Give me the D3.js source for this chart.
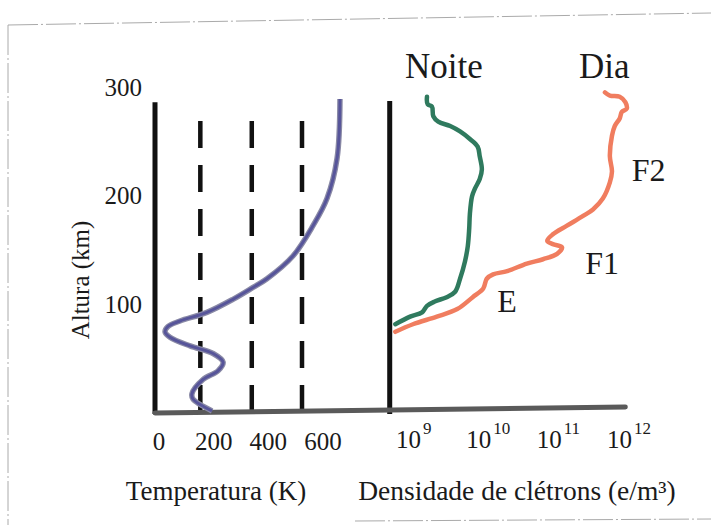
<!DOCTYPE html>
<html>
<head>
<meta charset="utf-8">
<script src="https://cdn.jsdelivr.net/npm/d3@7"></script>
<style>
  body { margin: 0; background: #fff; }
</style>
</head>
<body>
<div id="chart"></div>
<script>
// altura (km) ticks
var heightTicks = [100, 200, 300];
var tempTicks = [0, 200, 400, 600];
var densityExp = [9, 10, 11, 12];

// dashed reference lines (K)
var dashedTemps = [185, 395, 600];

// temperature profile: altura (km) / temperatura (K)
var tempH = [1, 12, 17, 30, 38, 46, 54, 61, 69, 74, 79, 84, 92, 104, 115, 123, 144, 172, 197, 234, 289];
var tempK = [233, 155, 151, 196, 257, 278, 237, 143, 61, 41, 53, 102, 212, 318, 400, 457, 563, 645, 702, 743, 755];

// electron density, log10(e/m3)
var noiteH = [81, 88, 92, 98, 102, 106, 111, 123, 139, 153, 169, 183, 199, 206, 215, 224, 236, 245, 252, 259, 264, 268, 273, 282, 284, 291];
var noiteLogN = [8.82, 9.03, 9.2, 9.27, 9.38, 9.55, 9.67, 9.74, 9.81, 9.85, 9.87, 9.88, 9.91, 9.95, 10.02, 10.05, 10.02, 9.99, 9.88, 9.74, 9.6, 9.43, 9.36, 9.34, 9.28, 9.27];

var diaH = [74, 81, 88, 95, 106, 114, 123, 127, 130, 137, 141, 146, 152, 155, 158, 164, 172, 181, 187, 197, 212, 222, 236, 255, 264, 271, 277, 280, 286, 291, 292, 295];
var diaLogN = [8.82, 9.07, 9.41, 9.7, 9.92, 10.07, 10.12, 10.21, 10.41, 10.69, 10.92, 11.12, 11.19, 11.06, 10.98, 11.06, 11.26, 11.49, 11.63, 11.77, 11.87, 11.9, 11.87, 11.9, 11.94, 12.01, 12.04, 12.11, 12.09, 12.01, 11.87, 11.8];

// layer / curve names
var layerNames = ["E", "F1", "F2"];
var layerH = [92, 127, 213];
var layerLogN = [10.27, 11.52, 12.18];
var curveNames = ["Noite", "Dia"];
var curveLogN = [9.51, 11.79];

var w = 711, h = 525;
var serif = "'Liberation Serif', 'Times New Roman', Times, 'DejaVu Serif', serif";
var svg = d3.select("#chart").append("svg").attr("width", w).attr("height", h)
  .style("font-family", serif);

var y = d3.scaleLinear().domain([0, 300]).range([412, 87]);
var xT = d3.scaleLinear().domain([0, 600]).range([155, 302]);
var xTlabel = d3.scaleLinear().domain([0, 600]).range([159, 323]);
var xN = d3.scaleLog().domain([1e9, 1e12]).range([408, 619]);

var axisTop = 286;
var densAxis = 8.74;
var densEnd = 12.09;

// scan frame
var frame = svg.append("g").attr("stroke", "#aaa").attr("stroke-width", 1).attr("stroke-dasharray", "30,3,2,3").attr("fill", "none");
frame.append("line").attr("x1", 8).attr("y1", 25).attr("x2", 711).attr("y2", 13);
frame.append("line").attr("x1", 8).attr("y1", 25).attr("x2", 8).attr("y2", 525);
frame.append("line").attr("x1", 355).attr("y1", 521).attr("x2", 711).attr("y2", 519);

// dashed lines
svg.selectAll(".dash").data(dashedTemps).enter().append("line")
  .attr("x1", function(d) { return xT(d); })
  .attr("x2", function(d) { return xT(d); })
  .attr("y1", y(0)).attr("y2", y(axisTop) + 2)
  .attr("stroke", "#111").attr("stroke-width", 4.5)
  .attr("stroke-dasharray", "27,17");

// axes
svg.append("line").attr("x1", xT(0)).attr("x2", xT(0)).attr("y1", y(0) + 2).attr("y2", y(axisTop))
  .attr("stroke", "#111").attr("stroke-width", 5);
svg.append("line").attr("x1", xN(Math.pow(10, densAxis))).attr("x2", xN(Math.pow(10, densAxis)))
  .attr("y1", y(0) + 2).attr("y2", y(axisTop + 1))
  .attr("stroke", "#111").attr("stroke-width", 5);
svg.append("line").attr("x1", xT(0)).attr("x2", xN(Math.pow(10, densEnd)))
  .attr("y1", y(0) + 1).attr("y2", y(0) - 5)
  .attr("stroke", "#5a5a5a").attr("stroke-width", 5).attr("stroke-linecap", "round");

// temperature curve
var tempLine = d3.line()
  .x(function(d, i) { return xT(tempK[i]); })
  .y(function(d, i) { return y(tempH[i]); })
  .curve(d3.curveCatmullRom);
svg.append("path").datum(tempH).attr("d", tempLine)
  .attr("fill", "none").attr("stroke", "#8a8aa6").attr("stroke-width", 5.5);
svg.append("path").datum(tempH).attr("d", tempLine)
  .attr("fill", "none").attr("stroke", "#57559a").attr("stroke-width", 3);

// density curves
function densLine(hs, ns) {
  return d3.line()
    .x(function(d, i) { return xN(Math.pow(10, ns[i])); })
    .y(function(d, i) { return y(hs[i]); })
    .curve(d3.curveCatmullRom)(hs);
}
svg.append("path").attr("d", densLine(noiteH, noiteLogN))
  .attr("fill", "none").attr("stroke", "#2f7a5e").attr("stroke-width", 4.5).attr("stroke-linecap", "round");
svg.append("path").attr("d", densLine(diaH, diaLogN))
  .attr("fill", "none").attr("stroke", "#f07d5f").attr("stroke-width", 4.5).attr("stroke-linecap", "round");

// y tick labels
svg.selectAll(".ytick").data(heightTicks).enter().append("text")
  .attr("x", 142).attr("y", function(d) { return y(d) + 9; })
  .attr("text-anchor", "end").attr("font-size", 25).attr("fill", "#1a1a1a")
  .text(function(d) { return d; });

svg.append("text")
  .attr("transform", "translate(89,280) rotate(-90)")
  .attr("text-anchor", "middle").attr("font-size", 25).attr("fill", "#1a1a1a")
  .text("Altura (km)");

// temperature tick labels
svg.selectAll(".ttick").data(tempTicks).enter().append("text")
  .attr("x", function(d) { return xTlabel(d); }).attr("y", 450)
  .attr("text-anchor", "middle").attr("font-size", 25).attr("fill", "#1a1a1a")
  .text(function(d) { return d; });

// density tick labels
var dt = svg.selectAll(".ntick").data(densityExp).enter().append("text")
  .attr("x", function(d) { return xN(Math.pow(10, d)) - 12; }).attr("y", 448)
  .attr("font-size", 25).attr("fill", "#1a1a1a");
dt.append("tspan").text("10");
dt.append("tspan").attr("dy", -14).attr("dx", 2).attr("font-size", 17)
  .text(function(d) { return d; });

// axis titles
svg.append("text").attr("x", 216).attr("y", 500).attr("text-anchor", "middle").attr("font-size", 27).attr("fill", "#1a1a1a")
  .text("Temperatura (K)");
svg.append("text").attr("x", 517).attr("y", 500).attr("text-anchor", "middle").attr("font-size", 27.5).attr("fill", "#1a1a1a")
  .text("Densidade de clétrons (e/m³)");

// curve names
svg.selectAll(".cname").data(curveNames).enter().append("text")
  .attr("x", function(d, i) { return xN(Math.pow(10, curveLogN[i])); })
  .attr("y", 78).attr("text-anchor", "middle").attr("font-size", 35).attr("fill", "#1a1a1a")
  .text(function(d) { return d; });

// layer names
svg.selectAll(".lname").data(layerNames).enter().append("text")
  .attr("x", function(d, i) { return xN(Math.pow(10, layerLogN[i])); })
  .attr("y", function(d, i) { return y(layerH[i]); })
  .attr("font-size", 32).attr("fill", "#1a1a1a")
  .text(function(d) { return d; });
</script>
</body>
</html>
